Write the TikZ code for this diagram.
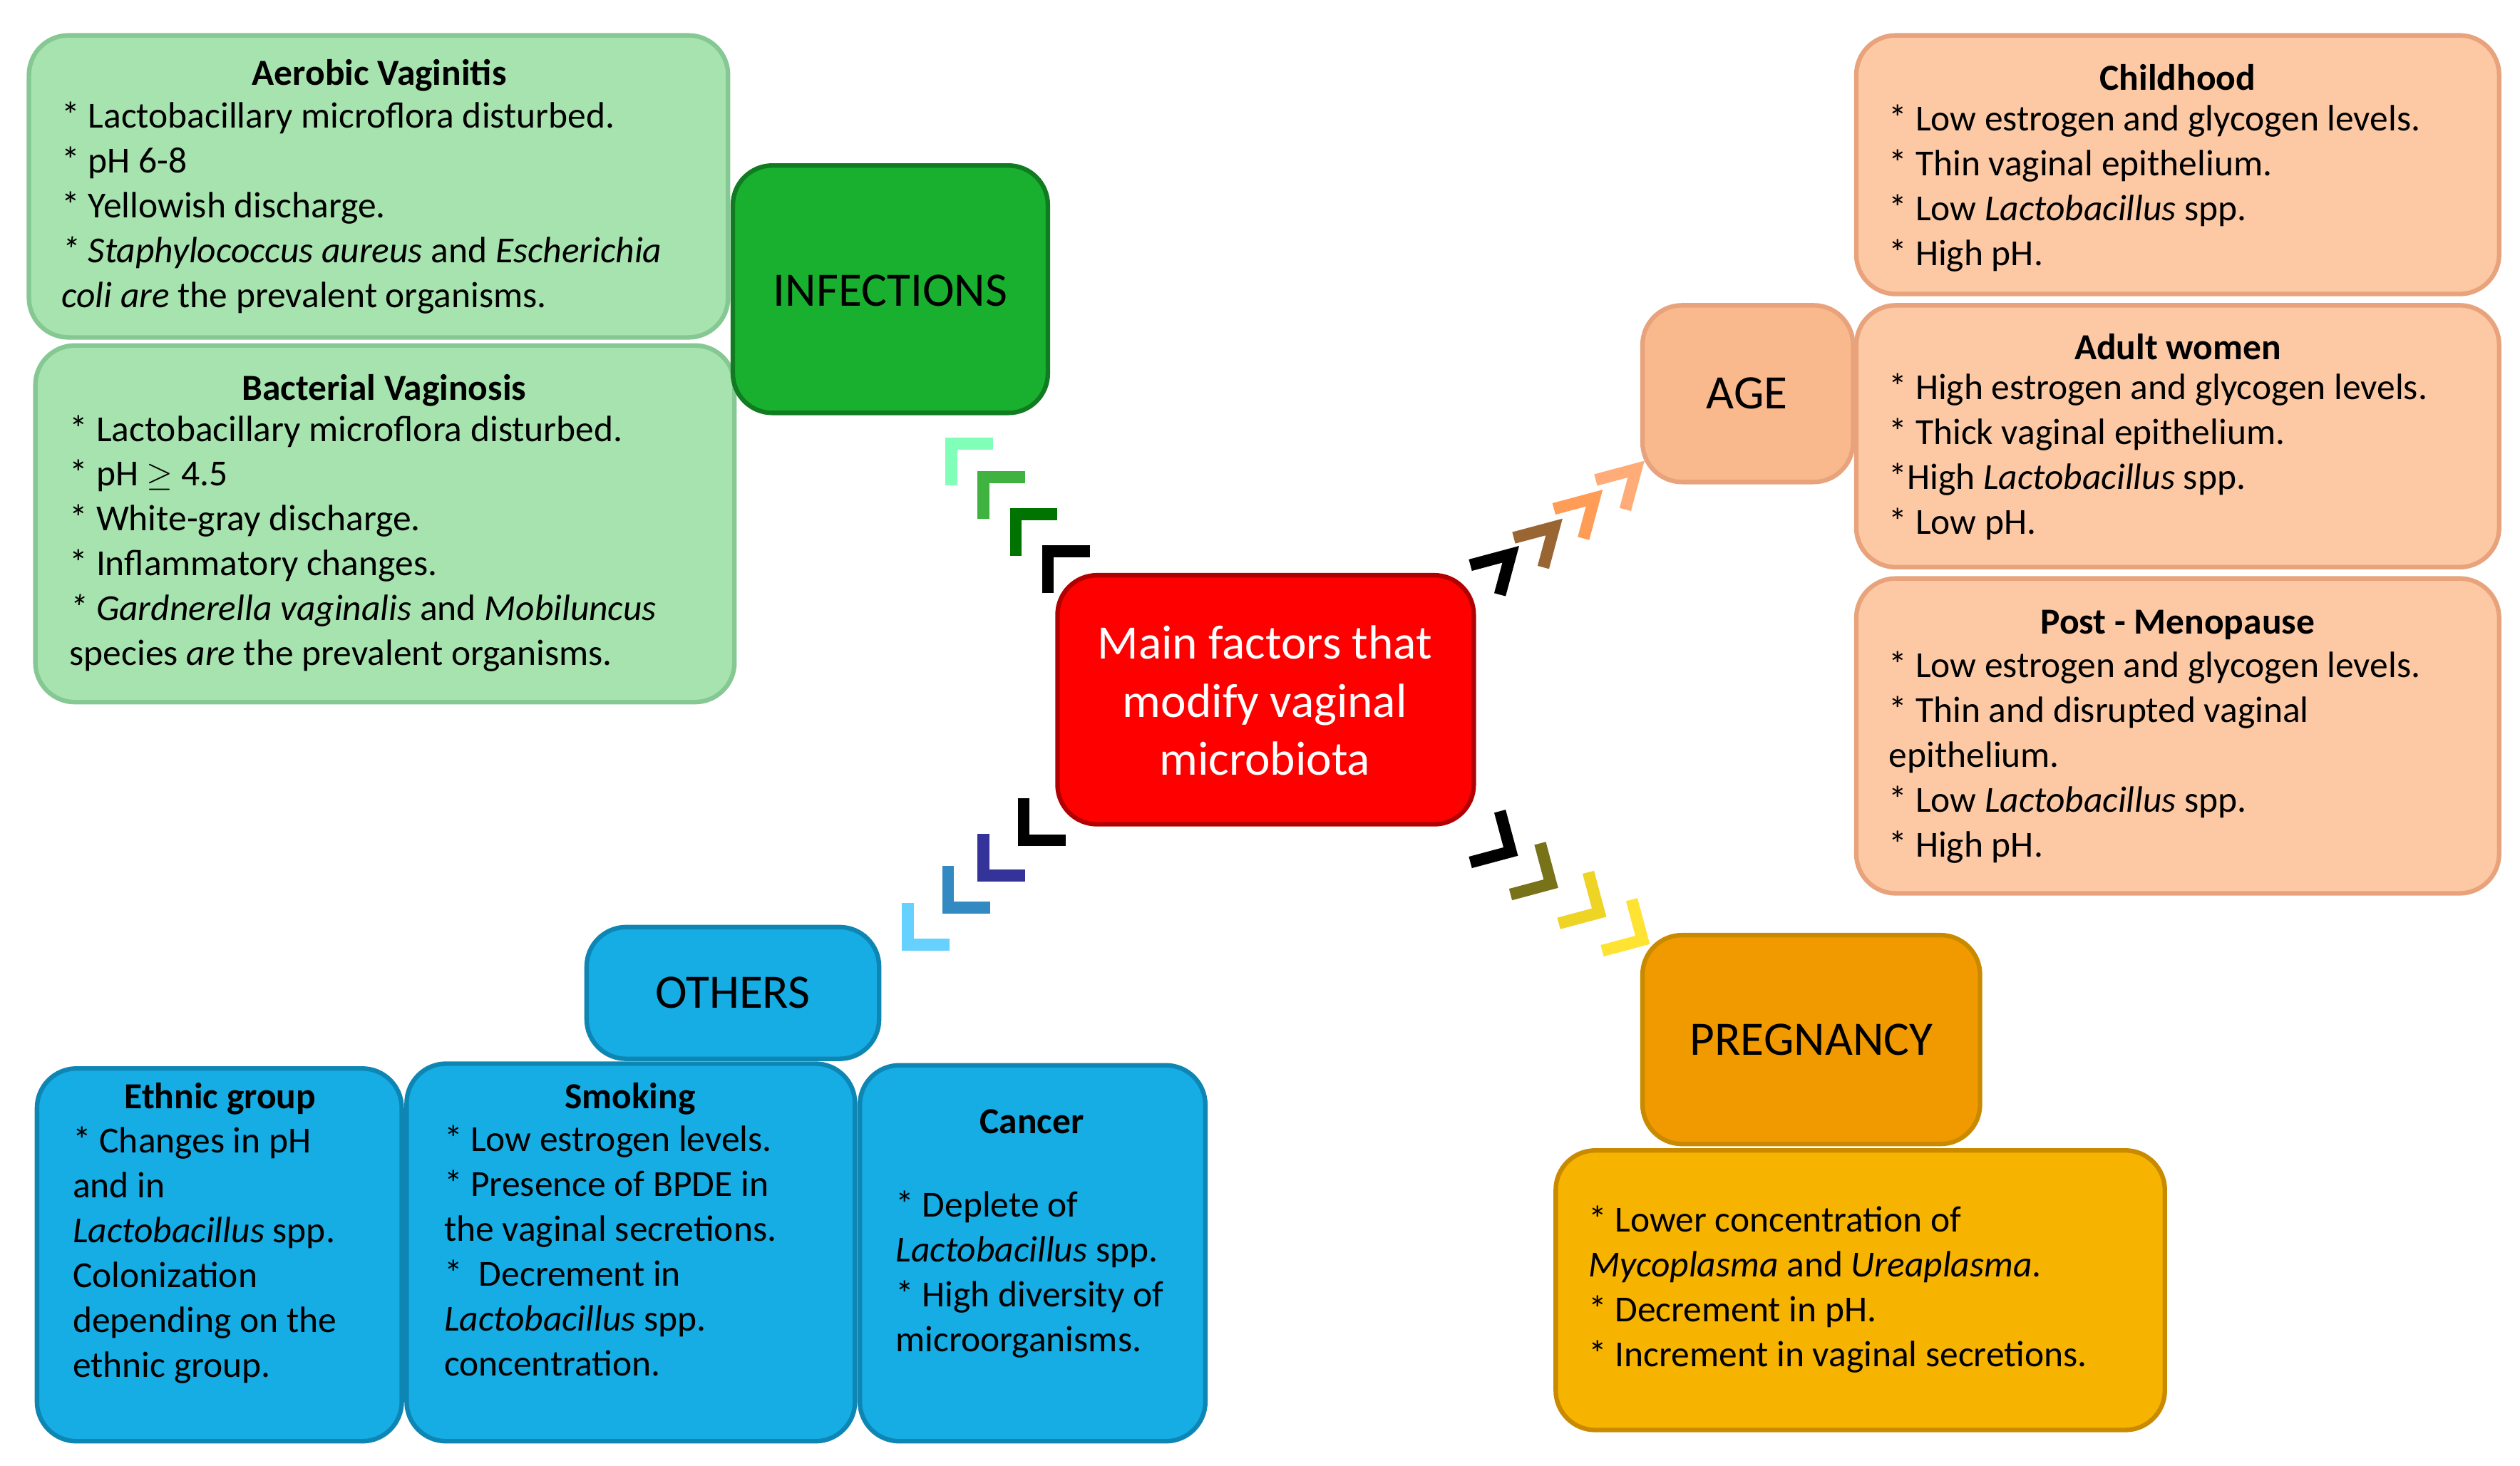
\documentclass[tikz,border=0pt]{standalone}
\usepackage{fontspec}
\setmainfont{Carlito}
\usepackage{tikz}

\definecolor{avgreen}{HTML}{A6E3AE}
\definecolor{avline}{HTML}{86C893}
\definecolor{infgreen}{HTML}{19B030}
\definecolor{peach}{HTML}{FCC9A4}
\definecolor{peachline}{HTML}{E8A37C}
\definecolor{agecol}{HTML}{F9B98C}
\definecolor{pregcol}{HTML}{F09A00}
\definecolor{pregtext}{HTML}{F6B400}
\definecolor{pregline}{HTML}{C98A00}
\definecolor{skyblue}{HTML}{16ACE4}
\definecolor{skyline}{HTML}{0E86B4}

\begin{document}
\begin{tikzpicture}[x=0.02cm,y=-0.02cm,
    box/.style={draw=#1,line width=1.6pt,rounded corners=14pt},
    head/.style={font=\fontsize{17}{20}\selectfont,inner sep=0pt},
    title/.style={font=\fontsize{13}{15.9}\selectfont\bfseries,inner sep=0pt,anchor=center},
    body/.style={font=\fontsize{13}{15.9}\selectfont,inner sep=0pt,anchor=north west,align=left},
    chev/.style={line width=4.2pt}]
        \def\arm{26}
        \useasboundingbox (0,0) rectangle (1568,912);

        %Center
        \draw[box=red!70!black,fill=red] (658,358) rectangle (917,513);
        \node[head,text=white,align=center,font=\fontsize{17}{20.5}\selectfont] (main) at (787,436) {Main factors that\\modify vaginal\\microbiota};

        %Infections
        \draw[box=avline,fill=avgreen] (18,22) rectangle (453,210);
        \node[title] (avt) at (236,47) {Aerobic Vaginitis};
        \node[body] (avb) at (38,63) {* Lactobacillary microflora disturbed.\\* pH 6-8\\* Yellowish discharge.\\\textit{* Staphylococcus aureus} and \textit{Escherichia}\\\textit{coli are} the prevalent organisms.};
        \draw[box=avline,fill=avgreen] (22,215) rectangle (457,437);
        \node[title] (bvt) at (239,243) {Bacterial Vaginosis};
        \node[body] (bvb) at (43,258) {* Lactobacillary microflora disturbed.\\* pH $\geq$ 4.5\\* White-gray discharge.\\* Inflammatory changes.\\\textit{* Gardnerella vaginalis} and \textit{Mobiluncus}\\species \textit{are} the prevalent organisms.};
        \draw[box=infgreen!70!black,fill=infgreen] (456,103) rectangle (652,257);
        \node[head] (inf) at (554,181) {INFECTIONS};

        %Age
        \draw[box=peachline,fill=agecol] (1022,190) rectangle (1153,300);
        \node[head] (age) at (1087,245) {AGE};
        \draw[box=peachline,fill=peach] (1155,22) rectangle (1555,183);
        \node[title] (cht) at (1355,48) {Childhood};
        \node[body] (chb) at (1175,65) {* Low estrogen and glycogen levels.\\* Thin vaginal epithelium.\\* Low \textit{Lactobacillus} spp.\\* High pH.};
        \draw[box=peachline,fill=peach] (1155,190) rectangle (1555,353);
        \node[title] (awt) at (1355,216) {Adult women};
        \node[body] (awb) at (1175,232) {* High estrogen and glycogen levels.\\* Thick vaginal epithelium.\\*High \textit{Lactobacillus} spp.\\* Low pH.};
        \draw[box=peachline,fill=peach] (1155,360) rectangle (1555,556);
        \node[title] (pmt) at (1355,389) {Post - Menopause};
        \node[body] (pmb) at (1175,405) {* Low estrogen and glycogen levels.\\* Thin and disrupted vaginal\\epithelium.\\* Low \textit{Lactobacillus} spp.\\* High pH.};

        %Pregnancy
        \draw[box=pregline,fill=pregcol] (1022,582) rectangle (1232,712);
        \node[head] (preg) at (1127,647) {PREGNANCY};
        \draw[box=pregline,fill=pregtext] (968,716) rectangle (1347,890);
        \node[body] (pgb) at (988,750) {* Lower concentration of\\\textit{Mycoplasma} and \textit{Ureaplasma}.\\* Decrement in pH.\\* Increment in vaginal secretions.};

        %Others
        \draw[box=skyline,fill=skyblue] (365,577) rectangle (547,659);
        \node[head] (oth) at (456,618) {OTHERS};
        \draw[box=skyline,fill=skyblue] (23,665) rectangle (250,897);
        \node[title] (egt) at (137,684) {Ethnic group};
        \node[body] (egb) at (45,701) {* Changes in pH\\and in\\\textit{Lactobacillus} spp.\\Colonization\\depending on the\\ethnic group.};
        \draw[box=skyline,fill=skyblue] (253,662) rectangle (532,897);
        \node[title] (smt) at (392,684) {Smoking};
        \node[body] (smb) at (276,700) {* Low estrogen levels.\\* Presence of BPDE in\\the vaginal secretions.\\*\ \ Decrement in\\\textit{Lactobacillus} spp.\\concentration.};
        \draw[box=skyline,fill=skyblue] (535,663) rectangle (750,897);
        \node[title] (cat) at (642,698) {Cancer};
        \node[body] (cab) at (557,741) {* Deplete of\\\textit{Lactobacillus} spp.\\* High diversity of\\microorganisms.};

        %Chevrons
        \foreach \x/\y/\c in {592/276/green!55!cyan!50!white,612/297/green!60!black!75!white,632/320/green!45!black,652/343/black}{
            \draw[chev,draw=\c] (\x,\y) ++(90:\arm) -- ++(270:\arm) -- +(0:\arm);
        }
        \foreach \x/\y/\c in {940/345/black,967/328/brown!80!black,992/310/orange!55!pink,1018/292/orange!45!pink!90!white}{
            \draw[chev,draw=\c] (\x,\y) ++(165:\arm) -- ++(-15:\arm) -- +(105:\arm);
        }
        \foreach \x/\y/\c in {637/523/black,612/545/blue!50!black!80!white,590/565/blue!40!cyan!70!black!80!white,565/588/blue!30!cyan!60!white}{
            \draw[chev,draw=\c] (\x,\y) ++(270:\arm) -- ++(90:\arm) -- +(0:\arm);
        }
        \foreach \x/\y/\c in {940/530/black,965/550/olive!80!black,995/568/yellow!70!brown,1022/585/yellow!80!orange!80!white}{
            \draw[chev,draw=\c] (\x,\y) ++(255:\arm) -- ++(75:\arm) -- +(165:\arm);
        }
    \end{tikzpicture}
\end{document}
